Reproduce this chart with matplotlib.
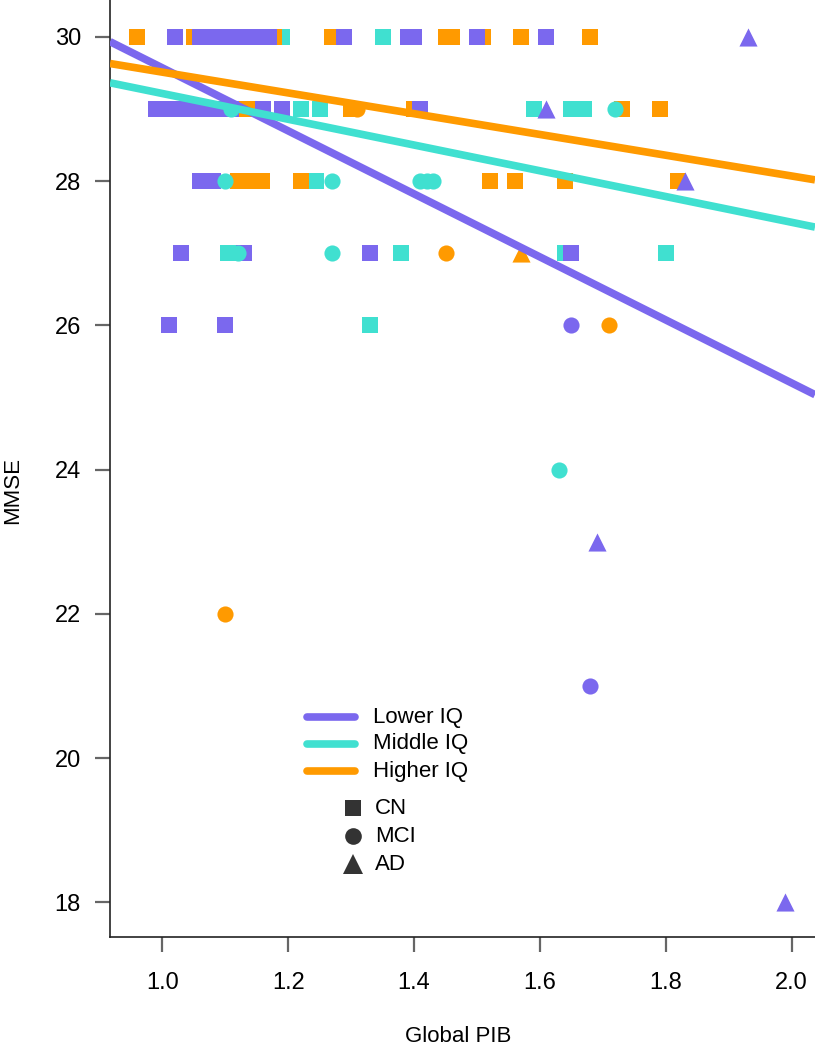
import matplotlib
matplotlib.use("Agg")
import matplotlib.pyplot as plt
from matplotlib.lines import Line2D
import numpy as np

# ---------------- data ----------------
groups = ["Lower IQ", "Middle IQ", "Higher IQ"]
group_colors = ["#7B68EE", "#40E0D0", "#FF9A00"]
diagnoses = ["CN", "MCI", "AD"]

# regression lines (intercept, slope)
line_intercepts = [33.94, 31.00, 30.95]
line_slopes = [-4.37, -1.786, -1.44]

# Lower IQ
low_cn_x = [1.02, 1.06, 1.07, 1.08, 1.09, 1.10, 1.11, 1.12, 1.13, 1.14, 1.15, 1.16, 1.17,
            1.289, 1.39, 1.40, 1.50, 1.61,
            0.99, 1.00, 1.01, 1.02, 1.03, 1.04, 1.05, 1.06, 1.07, 1.08, 1.09, 1.10, 1.11,
            1.16, 1.19, 1.41,
            1.06, 1.07, 1.08,
            1.03, 1.13, 1.33, 1.65,
            1.01, 1.10]
low_cn_y = [30] * 18 + [29] * 16 + [28] * 3 + [27] * 4 + [26] * 2
low_mci_x = [1.65, 1.68]
low_mci_y = [26, 21]
low_ad_x = [1.93, 1.61, 1.83, 1.69, 1.99]
low_ad_y = [30, 29, 28, 23, 18]

# Middle IQ
mid_cn_x = [1.19, 1.35, 1.22, 1.25, 1.59, 1.65, 1.67, 1.245, 1.105, 1.38, 1.64, 1.80, 1.33]
mid_cn_y = [30, 30, 29, 29, 29, 29, 29, 28, 27, 27, 27, 27, 26]
mid_mci_x = [1.11, 1.72, 1.10, 1.27, 1.41, 1.42, 1.43, 1.12, 1.27, 1.63]
mid_mci_y = [29, 29, 28, 28, 28, 28, 28, 27, 27, 24]
mid_ad_x = []
mid_ad_y = []

# Higher IQ
high_cn_x = [0.96, 1.05, 1.178, 1.27, 1.45, 1.46, 1.51, 1.57, 1.68,
             1.13, 1.145, 1.30, 1.40, 1.73, 1.79,
             1.12, 1.135, 1.145, 1.158, 1.22, 1.52, 1.56, 1.64, 1.82]
high_cn_y = [30] * 9 + [29] * 6 + [28] * 9
high_mci_x = [1.31, 1.45, 1.71, 1.10]
high_mci_y = [29, 27, 26, 22]
high_ad_x = [1.57]
high_ad_y = [27]

x_ticks = [1.0, 1.2, 1.4, 1.6, 1.8, 2.0]
y_ticks = [18, 20, 22, 24, 26, 28, 30]

# ---------------- figure ----------------
W, H = 815, 1050
fig = plt.figure(figsize=(W / 100, H / 100), dpi=100)
ax_left, ax_bottom, ax_right, ax_top = 110, 937, 815, 0
ax = fig.add_axes([ax_left / W, 1 - ax_bottom / H, (ax_right - ax_left) / W, (ax_bottom - ax_top) / H])
ax.set_xlim(0.917, 2.037)
ax.set_ylim(17.52, 30.51)

narrow = ["Liberation Sans Narrow", "Liberation Sans", "DejaVu Sans"]
regular = ["Liberation Sans", "DejaVu Sans"]

sq_s, ci_s, tr_s = 125, 135, 170

# squares: teal, orange, purple
ax.scatter(mid_cn_x, mid_cn_y, marker="s", s=sq_s, color=group_colors[1], linewidths=0, zorder=3)
ax.scatter(high_cn_x, high_cn_y, marker="s", s=sq_s, color=group_colors[2], linewidths=0, zorder=3)
ax.scatter(low_cn_x, low_cn_y, marker="s", s=sq_s, color=group_colors[0], linewidths=0, zorder=3)
# circles
ax.scatter(high_mci_x, high_mci_y, marker="o", s=ci_s, color=group_colors[2], linewidths=0, zorder=4)
ax.scatter(mid_mci_x, mid_mci_y, marker="o", s=ci_s, color=group_colors[1], linewidths=0, zorder=4)
ax.scatter(low_mci_x, low_mci_y, marker="o", s=ci_s, color=group_colors[0], linewidths=0, zorder=4)
# triangles
ax.scatter(high_ad_x, high_ad_y, marker="^", s=tr_s, color=group_colors[2], linewidths=0, zorder=5)
ax.scatter(low_ad_x, low_ad_y, marker="^", s=tr_s, color=group_colors[0], linewidths=0, zorder=5)

# regression lines
xl = np.array(ax.get_xlim())
for a, b, c in zip(line_intercepts, line_slopes, group_colors):
    ax.plot(xl, a + b * xl, color=c, lw=5.5, solid_capstyle="butt", zorder=6)

# axes style
for s in ["top", "right"]:
    ax.spines[s].set_visible(False)
for s in ["left", "bottom"]:
    ax.spines[s].set_linewidth(1.2)
    ax.spines[s].set_color("#222222")
ax.set_xticks(x_ticks)
ax.set_yticks(y_ticks)
ax.set_xticklabels([f"{v:.1f}" for v in x_ticks], family=narrow, fontsize=17)
ax.set_yticklabels([str(v) for v in y_ticks], family=narrow, fontsize=17)
ax.tick_params(axis="both", length=11, width=1.6, color="#666666", direction="out")
ax.tick_params(axis="x", pad=14)
ax.tick_params(axis="y", pad=10)
ax.set_xlabel("Global PIB", family=narrow, fontsize=16)
ax.set_ylabel("MMSE", family=narrow, fontsize=16)
ax.xaxis.set_label_coords((458 - ax_left) / (ax_right - ax_left), -(1036 - ax_bottom) / (ax_bottom - ax_top))
ax.yaxis.set_label_coords(-(ax_left - 13) / (ax_right - ax_left), (ax_bottom - 490) / (ax_bottom - ax_top))
ax.xaxis.label.set_va("center")
ax.yaxis.label.set_va("center")

# manual legend
def fx(px):
    return px / W

def fy(py):
    return 1 - py / H

line_rows = [717, 744, 771]
for lab, c, yy in zip(groups, group_colors, line_rows):
    fig.add_artist(Line2D([fx(307), fx(355)], [fy(yy), fy(yy)], transform=fig.transFigure,
                          color=c, lw=5.5, solid_capstyle="round"))
    fig.text(fx(373), fy(yy), lab, family=regular, fontsize=16, va="center", ha="left")

marker_rows = [808, 836, 864]
for lab, m, ms, yy in zip(diagnoses, ["s", "o", "^"], [12, 12, 14], marker_rows):
    fig.add_artist(Line2D([fx(353)], [fy(yy)], transform=fig.transFigure, marker=m,
                          markersize=ms, color="#333333", markeredgewidth=0, linestyle="none"))
    fig.text(fx(375), fy(yy), lab, family=regular, fontsize=16, va="center", ha="left")

fig.savefig("out.png", dpi=100)
